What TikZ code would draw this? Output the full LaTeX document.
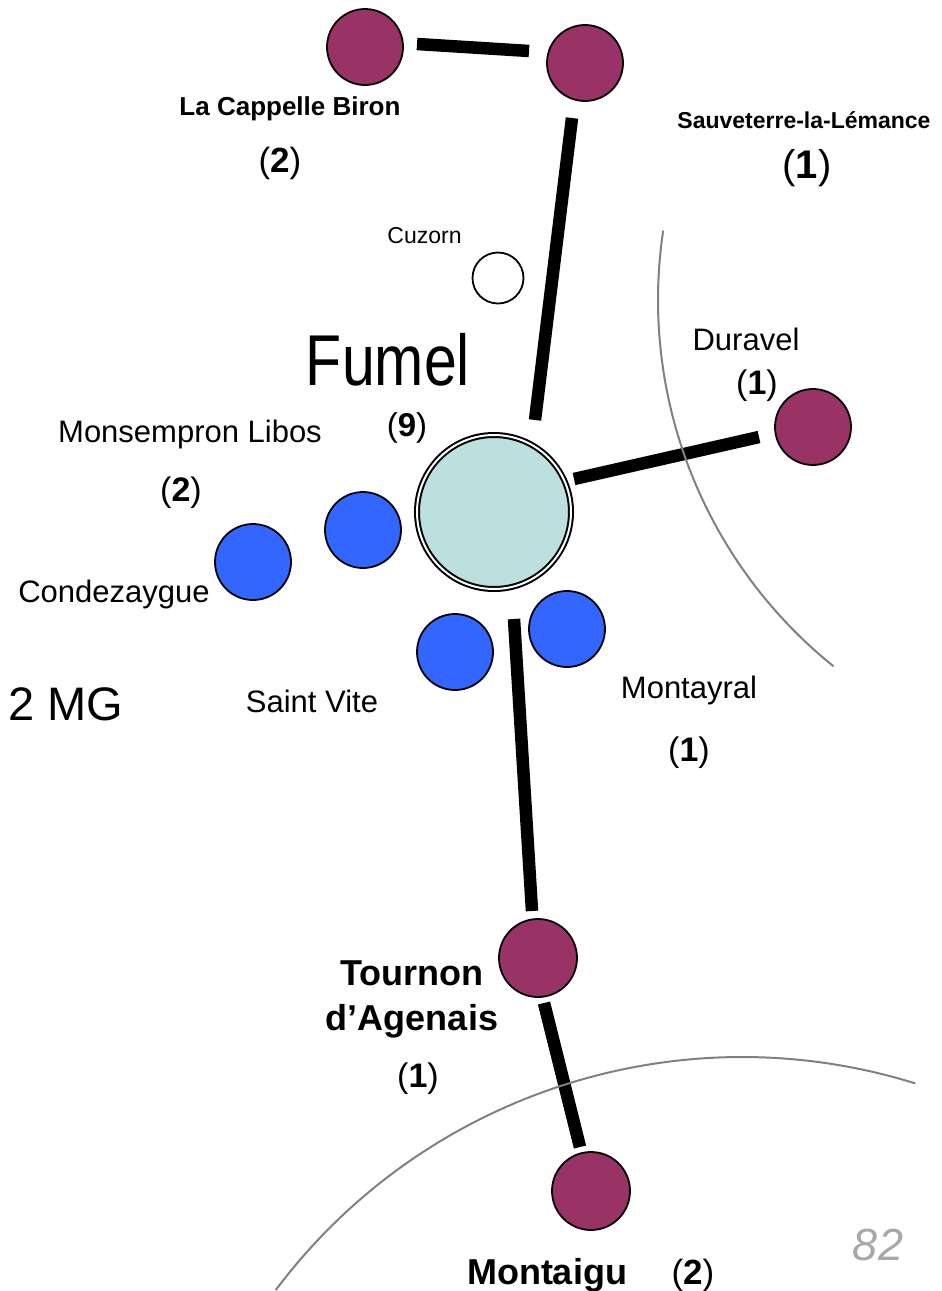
\documentclass[tikz,border=0pt]{standalone}
\usepackage{fontspec}
\setmainfont{Liberation Sans}
\usetikzlibrary{calc}
\definecolor{townred}{HTML}{993366}
\definecolor{townblue}{HTML}{3366FF}
\definecolor{hubfill}{HTML}{BCE0E0}
\definecolor{zonegray}{HTML}{808080}
\definecolor{pagegray}{HTML}{A8A8A8}
\tikzset{
  town/.style={circle, draw=black, line width=1.8pt, inner sep=0pt, outer sep=0pt, minimum size=76pt},
  rural/.style={town, fill=townred},
  near/.style={town, fill=townblue},
  link/.style={line width=12.5pt, black, line cap=butt},
  zone/.style={draw=zonegray, line width=2pt},
  lbl/.style={anchor=base, inner sep=0pt, outer sep=0pt},
  sz/.style={font=\fontsize{#1}{#1}\selectfont},
}
\begin{document}
\begin{tikzpicture}[x=1pt,y=1pt]
\useasboundingbox (0,0) rectangle (942,-1291);
% towns
\node[rural] (cap) at (365,-47) {};
\node[rural] (sauv) at (585,-63) {};
\node[town, fill=white, minimum size=51pt] (cuzorn) at (498,-278) {};
\node[circle, fill=hubfill, draw=black, line width=2pt, double=white, double distance=2pt,
      minimum size=154pt, inner sep=0pt, outer sep=0pt] (fumel) at (494,-512) {};
\node[rural] (duravel) at (813,-427) {};
\node[near] (mons) at (363,-530) {};
\node[near] (cond) at (253,-562) {};
\node[near] (svite) at (455,-652) {};
\node[near] (montay) at (567,-629) {};
\node[rural, minimum size=78pt] (tournon) at (538,-958) {};
\node[rural, minimum size=78pt] (montaigu) at (591,-1191) {};
% links
\draw[link] ($(cap)+(52,3)$) -- ($(sauv)+(-56,12)$);
\draw[link] ($(sauv)+(-13,-55)$) -- ($(fumel)+(41,92)$);
\draw[link] ($(fumel)+(80,33)$) -- ($(duravel)+(-54,-10)$);
\draw[link] ($(fumel)+(20,-107)$) -- ($(tournon)+(-6,47)$);
\draw[link] ($(tournon)+(6,-45)$) -- ($(montaigu)+(-11,44)$);
% zones
\draw[zone] (1128,-300) ++(171.5:470) arc[start angle=171.5, end angle=231.2, radius=470];
\draw[zone] (742,-1640) ++(72.7:583) arc[start angle=72.7, end angle=143.1, radius=583];
% labels
\node[lbl, font=\bfseries\fontsize{26}{26}\selectfont] (tcap) at (290,-115) {La Cappelle Biron};
\node[lbl, sz=35] (ncap) at (280,-172) {(\textbf{2})};
\node[lbl, font=\bfseries\fontsize{23}{23}\selectfont] (tsauv) at (804,-128) {Sauveterre-la-Lémance};
\node[lbl, sz=40] (nsauv) at (807,-178) {(\textbf{1})};
\node[lbl, sz=23] (tcuz) at (424.5,-243) {Cuzorn};
\node[lbl, sz=72] (tfumel) at (388,-385) {\scalebox{0.82}[1]{Fumel}};
\node[lbl, sz=33] (nfumel) at (407,-436) {(\textbf{9})};
\node[lbl, sz=31] (tdur) at (746,-350) {Duravel};
\node[lbl, sz=34] (ndur) at (757,-394) {(\textbf{1})};
\node[lbl, sz=31] (tmons) at (190,-442) {Monsempron Libos};
\node[lbl, sz=34] (nmons) at (181,-501) {(\textbf{2})};
\node[lbl, sz=31] (tcond) at (114,-602) {Condezaygue};
\node[lbl, sz=47] (tmg) at (66,-720) {2 MG};
\node[lbl, sz=31] (tsv) at (312,-712) {Saint Vite};
\node[lbl, sz=31] (tmontay) at (689,-698) {Montayral};
\node[lbl, sz=34] (nmontay) at (689,-761) {(\textbf{1})};
\node[lbl, font=\bfseries\fontsize{36}{36}\selectfont] (ttour1) at (412,-985) {Tournon};
\node[lbl, font=\bfseries\fontsize{36}{36}\selectfont] (ttour2) at (412,-1030) {d’Agenais};
\node[lbl, sz=34] (ntour) at (418,-1087) {(\textbf{1})};
\node[lbl, font=\bfseries\fontsize{36}{36}\selectfont] (tmontaigu) at (547,-1284) {Montaigu};
\node[lbl, sz=35] (nmontaigu) at (693,-1284) {(\textbf{2})};
\node[lbl, font=\itshape\fontsize{45}{45}\selectfont, text=pagegray] (page) at (878,-1260) {82};
\end{tikzpicture}
\end{document}
